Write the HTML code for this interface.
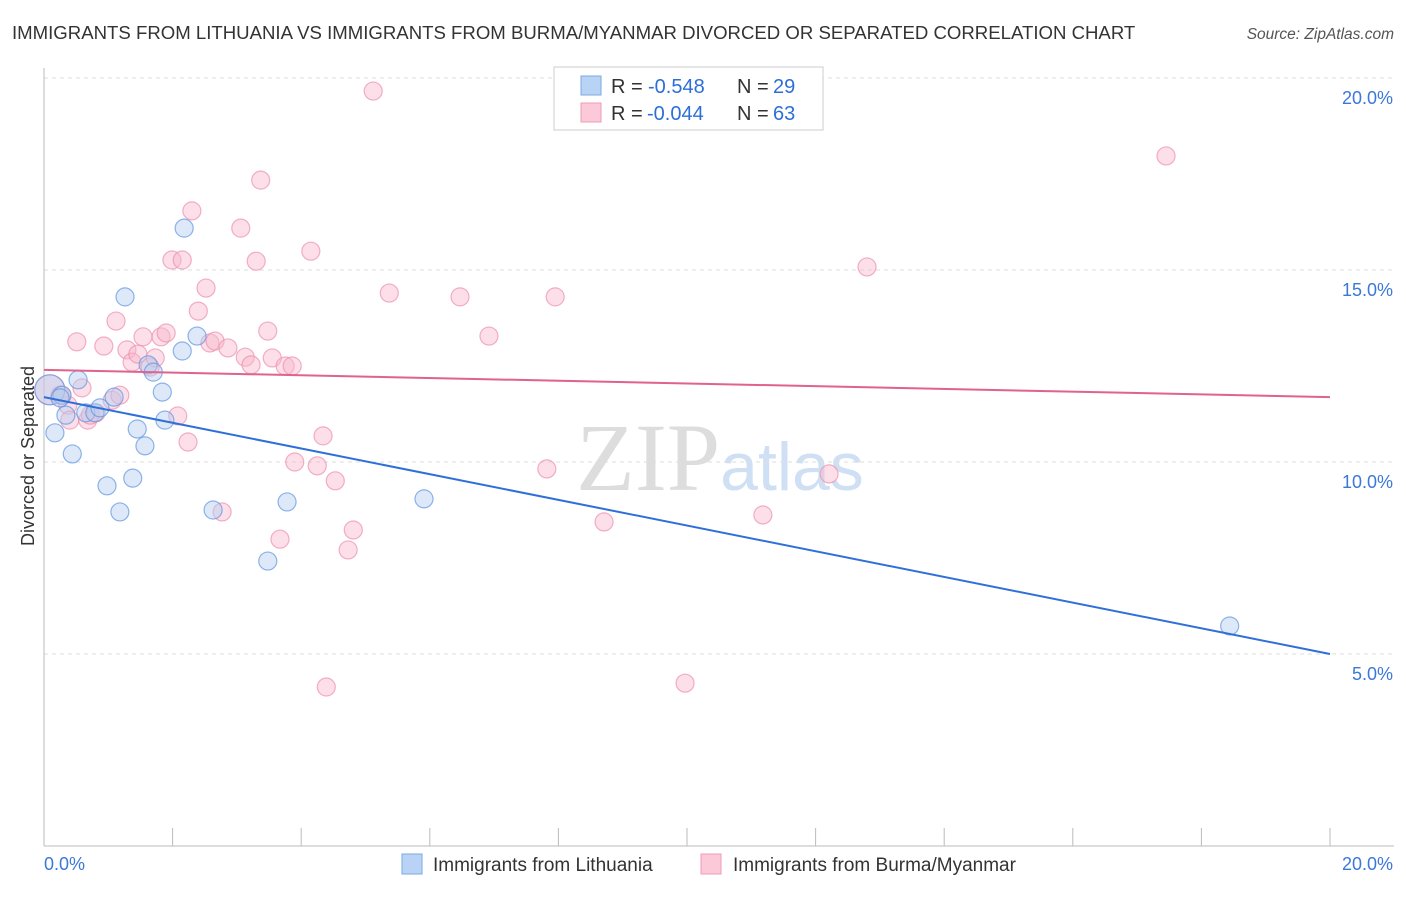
<!DOCTYPE html>
<html><head><meta charset="utf-8"><style>
body{margin:0;background:#fff;font-family:"Liberation Sans",sans-serif}
</style></head><body>
<svg width="1406" height="892" xmlns="http://www.w3.org/2000/svg" font-family="Liberation Sans, sans-serif" id="chart">
<text x="12" y="39" font-size="18.6" fill="#333">IMMIGRANTS FROM LITHUANIA VS IMMIGRANTS FROM BURMA/MYANMAR DIVORCED OR SEPARATED CORRELATION CHART</text>
<text x="1394" y="39" font-size="15.5" fill="#555" font-style="italic" text-anchor="end">Source: ZipAtlas.com</text>
<text x="0" y="0" transform="translate(34,456) rotate(-90)" font-size="18" fill="#333" text-anchor="middle">Divorced or Separated</text>
<text x="720" y="490" font-size="96" fill="#ddd" text-anchor="middle" font-family="Liberation Serif, serif">ZIP<tspan fill="#cfe0f5" font-family="Liberation Sans, sans-serif" font-size="68">atlas</tspan></text>
<g id="grid"></g><g id="axes"></g><g id="pts"></g><g id="lines"></g>
<g>
<rect x="554" y="67" width="269" height="63" fill="#fff" stroke="#ccc"/>
<rect x="581" y="76" width="20" height="19" fill="#b9d3f5" stroke="#7aa8e6"/>
<rect x="581" y="103" width="20" height="19" fill="#fcc9d9" stroke="#f09ab6"/>
<text x="611" y="93" font-size="20" fill="#333">R =</text>
<text x="648" y="93" font-size="20" fill="#2d6fd6">-0.548</text>
<text x="737" y="93" font-size="20" fill="#333">N =</text>
<text x="773" y="93" font-size="20" fill="#2d6fd6">29</text>
<text x="611" y="120" font-size="20" fill="#333">R =</text>
<text x="647" y="120" font-size="20" fill="#2d6fd6">-0.044</text>
<text x="737" y="120" font-size="20" fill="#333">N =</text>
<text x="773" y="120" font-size="20" fill="#2d6fd6">63</text>
</g>
<g>
<rect x="402" y="854" width="20" height="20" fill="#b9d3f5" stroke="#7aa8e6"/>
<text x="433" y="871" font-size="19" fill="#333">Immigrants from Lithuania</text>
<rect x="701" y="854" width="20" height="20" fill="#fcc9d9" stroke="#f09ab6"/>
<text x="733" y="871" font-size="19" fill="#333">Immigrants from Burma/Myanmar</text>
</g>
</svg>
<script>
const blueX=[0.09,0.17,0.28,0.34,0.44,0.53,0.65,0.79,0.87,0.98,1.09,1.18,1.26,1.38,1.45,1.57,1.62,1.70,1.84,1.88,2.15,2.18,2.38,2.63,3.48,3.78,5.91,18.44,0.25];
const blueY=[11.88,10.76,11.74,11.22,10.21,12.14,11.28,11.28,11.41,9.38,11.69,8.70,14.30,9.58,10.86,10.42,12.53,12.34,11.82,11.09,12.89,16.09,13.28,8.75,7.42,8.96,9.04,5.73,11.67];
const pinkX=[0.09,0.25,0.37,0.40,0.51,0.59,0.68,0.81,0.93,1.06,1.12,1.18,1.29,1.37,1.46,1.54,1.65,1.73,1.82,1.90,1.99,2.08,2.15,2.24,2.30,2.40,2.52,2.58,2.66,2.77,2.86,3.06,3.13,3.22,3.30,3.37,3.48,3.55,3.67,3.75,3.86,3.90,4.15,4.25,4.34,4.39,4.53,4.73,4.81,5.12,5.37,6.47,6.92,7.82,7.95,8.71,9.97,11.18,12.21,12.80,17.45,0.28,0.72];
const pinkY=[11.88,11.74,11.48,11.09,13.13,11.93,11.09,11.28,13.02,11.61,13.67,11.74,12.92,12.60,12.81,13.26,12.47,12.71,13.26,13.36,15.26,11.20,15.26,10.52,16.54,13.93,14.53,13.10,13.15,8.70,12.97,16.09,12.73,12.53,15.23,17.34,13.41,12.71,7.99,12.50,12.50,10.0,15.49,9.90,10.68,4.14,9.51,7.71,8.23,19.66,14.40,14.30,13.28,9.82,14.30,8.44,4.24,8.62,9.69,15.08,17.97,11.74,11.22];
const blueTrend=[11.69,5.0];
const pinkTrend=[12.40,11.69];
const yTicks=[5,10,15,20];
const yTickLabels=["5.0%","10.0%","15.0%","20.0%"];
const NS="http://www.w3.org/2000/svg";
const sx=v=>44+v/20*1286, sy=v=>846-v/20*768;
function mk(t,a,p){const e=document.createElementNS(NS,t);for(const k in a)e.setAttribute(k,a[k]);document.getElementById(p).appendChild(e);return e;}
yTicks.forEach((t,i)=>{
 const g=mk('line',{x1:44,x2:1394,y1:sy(t),y2:sy(t),stroke:'#ddd','stroke-dasharray':'4,4'},'grid');
 
 
 const l=mk('text',{x:1393,y:sy(t)+26,'font-size':18,fill:'#3b78d8','text-anchor':'end'},'grid');
 l.textContent=yTickLabels[i];
 
 
});
mk('line',{x1:44,x2:44,y1:68,y2:846,stroke:'#bbb'},'axes');
mk('line',{x1:44,x2:1394,y1:846,y2:846,stroke:'#bbb'},'axes');
for(let k=1;k<=10;k++){const t=mk('line',{x1:sx(k*2),x2:sx(k*2),y1:828,y2:846,stroke:'#bbb'},'axes');
 
 }
const x0=mk('text',{x:44,y:870,'font-size':18,fill:'#3b78d8'},'axes');x0.textContent='0.0%';


const x1=mk('text',{x:1393,y:870,'font-size':18,fill:'#3b78d8','text-anchor':'end'},'axes');x1.textContent='20.0%';


function pts(X,Y,fill,stroke,name){X.forEach((x,i)=>{
 const c=mk('circle',{cx:sx(x),cy:sy(Y[i]),r:(i==0?15:9),fill:fill,'fill-opacity':0.45,stroke:stroke,'stroke-opacity':0.7,'stroke-width':1.2},'pts');
 
 
});}
pts(pinkX,pinkY,'#f8b8cc','#ee8fae','point-burma');
pts(blueX,blueY,'#b3cff2','#5f95e0','point-lithuania');
const bl=mk('line',{x1:sx(0),y1:sy(blueTrend[0]),x2:sx(20),y2:sy(blueTrend[1]),stroke:'#2f6fd8','stroke-width':2},'lines');


const pl=mk('line',{x1:sx(0),y1:sy(pinkTrend[0]),x2:sx(20),y2:sy(pinkTrend[1]),stroke:'#e0628d','stroke-width':2},'lines');


</script>
</body></html>
